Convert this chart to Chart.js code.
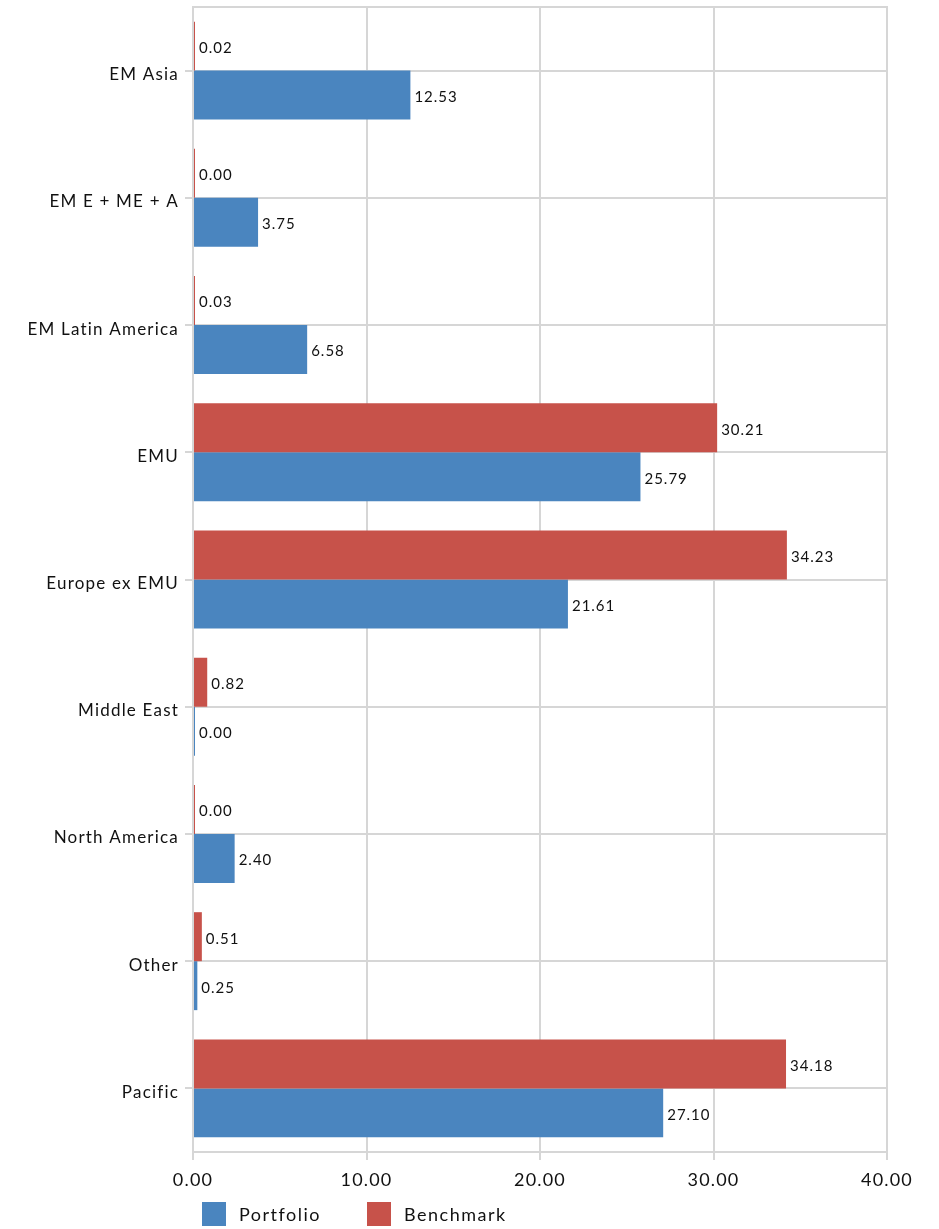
<!DOCTYPE html>
<html>
<head>
<meta charset="utf-8">
<script src="https://cdn.jsdelivr.net/npm/chart.js@4.4.1/dist/chart.umd.min.js"></script>
<style>
    html, body { margin: 0; padding: 0; background: #fff; }
    #wrap { position: relative; width: 939px; height: 1229px; }
    #legend { position: absolute; left: 202px; top: 1202px; display: flex; font-family: Lato, sans-serif; font-size: 18px; color: #111; letter-spacing: 1.5px; }
    .item { display: flex; align-items: center; margin-right: 46px; }
    .box { width: 24px; height: 24px; margin-right: 13px; }
</style>
</head>
<body>
<div id="wrap">
    <canvas id="chart" width="939" height="1229"></canvas>
    <div id="legend"></div>
</div>
<script>
const categories = ['EM Asia', 'EM E + ME + A', 'EM Latin America', 'EMU', 'Europe ex EMU', 'Middle East', 'North America', 'Other', 'Pacific'];
const portfolio = [12.53, 3.75, 6.58, 25.79, 21.61, 0.00, 2.40, 0.25, 27.10];
const benchmark = [0.02, 0.00, 0.03, 30.21, 34.23, 0.82, 0.00, 0.51, 34.18];
const xTicks = [0, 10, 20, 30, 40];

const BLUE = '#4a85bf';
const RED = '#c7524a';
const GRID = '#d6d6d6';

// wider letter spacing like the original renderer + top frame line
const frame = {
    id: 'frame',
    beforeDraw(chart) {
        chart.ctx.letterSpacing = '1.2px';
    },
    afterDraw(chart) {
        const { ctx, chartArea } = chart;
        ctx.save();
        ctx.strokeStyle = GRID;
        ctx.lineWidth = 2;
        ctx.beginPath();
        ctx.moveTo(chartArea.left - 1, chartArea.top);
        ctx.lineTo(chartArea.right + 1, chartArea.top);
        ctx.stroke();
        ctx.restore();
    }
};

// values printed next to each bar end
const barLabels = {
    id: 'barLabels',
    afterDatasetsDraw(chart) {
        const ctx = chart.ctx;
        ctx.save();
        ctx.font = '15px Lato, sans-serif';
        ctx.letterSpacing = '1px';
        ctx.fillStyle = '#111';
        ctx.textAlign = 'left';
        ctx.textBaseline = 'middle';
        chart.data.datasets.forEach((ds, i) => {
            const meta = chart.getDatasetMeta(i);
            meta.data.forEach((bar, j) => {
                ctx.fillText(ds.data[j].toFixed(2), bar.x + 4, bar.y + 2);
            });
        });
        ctx.restore();
    }
};

const chart = new Chart(document.getElementById('chart').getContext('2d'), {
    type: 'bar',
    data: {
        labels: categories,
        datasets: [
            { label: 'Benchmark', data: benchmark, backgroundColor: RED, minBarLength: 2 },
            { label: 'Portfolio', data: portfolio, backgroundColor: BLUE, minBarLength: 2 }
        ]
    },
    options: {
        indexAxis: 'y',
        responsive: false,
        animation: false,
        categoryPercentage: 0.77,
        barPercentage: 1.0,
        layout: { padding: { top: 7, right: 52, left: 0, bottom: 0 } },
        plugins: { legend: { display: false }, tooltip: { enabled: false } },
        scales: {
            x: {
                min: 0,
                max: 40,
                afterBuildTicks: (s) => { s.ticks = xTicks.map(v => ({ value: v })); },
                afterFit: (s) => { s.height = 77; },
                grid: { color: GRID, lineWidth: 2, tickLength: 8 },
                border: { color: GRID, width: 2 },
                ticks: {
                    color: '#111',
                    padding: 9,
                    font: { family: 'Lato', size: 18 },
                    callback: (v) => Number(v).toFixed(2)
                }
            },
            y: {
                afterFit: (s) => { s.width = 193; s.paddingTop = 0; s.paddingBottom = 0; },
                grid: { color: GRID, lineWidth: 2, tickLength: 8, offset: false },
                border: { color: GRID, width: 2 },
                ticks: {
                    color: '#111',
                    padding: 6,
                    labelOffset: 4,
                    font: { family: 'Lato', size: 17 }
                }
            }
        }
    },
    plugins: [frame, barLabels]
});

// legend: Portfolio first, then Benchmark
const legendEl = document.getElementById('legend');
chart.data.datasets.slice().reverse().forEach(ds => {
    const item = document.createElement('div');
    item.className = 'item';
    const box = document.createElement('div');
    box.className = 'box';
    box.style.background = ds.backgroundColor;
    const txt = document.createElement('span');
    txt.textContent = ds.label;
    item.appendChild(box);
    item.appendChild(txt);
    legendEl.appendChild(item);
});
</script>
</body>
</html>
